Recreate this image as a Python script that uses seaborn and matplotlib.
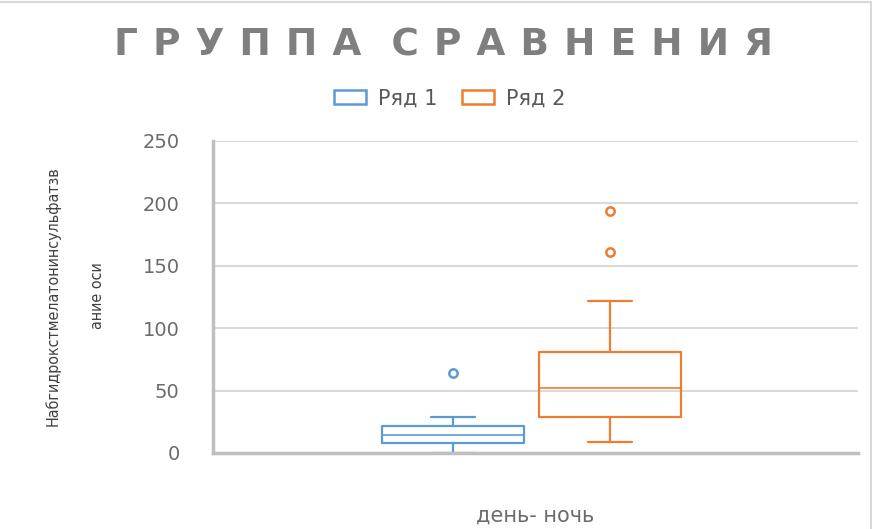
import matplotlib
matplotlib.use("Agg")
import matplotlib.pyplot as plt
from matplotlib.lines import Line2D
import seaborn as sns
import pandas as pd

# Series values (night/day comparison, two groups)
series_1 = [0, 5, 7.8, 11, 14.4, 18, 21.9, 28.8, 64]
series_2 = [8.8, 18, 24, 28.8, 38, 45, 51.8, 60, 70, 81, 122, 161, 194]
series_names = ["Ряд 1", "Ряд 2"]
category = "день- ночь"
title = "ГРУППА СРАВНЕНИЯ"
ylabel_lines = ["Набгидрокстмелатонинсульфатзв", "ание оси"]
yticks = [0, 50, 100, 150, 200, 250]

colors = ["#5B9BD5", "#ED7D31"]
grey_text = "#7F7F7F"
tick_grey = "#6B6B6B"

df = pd.DataFrame({
    "value": series_1 + series_2,
    "series": [series_names[0]] * len(series_1) + [series_names[1]] * len(series_2),
    "cat": [category] * (len(series_1) + len(series_2)),
})

sns.set_theme(style="white")
plt.rcParams["font.family"] = ["DejaVu Sans"]

fig = plt.figure(figsize=(8.74, 5.29), dpi=100)
ax = fig.add_axes([213 / 874, 1 - 453 / 529, 645 / 874, 312 / 529])

sns.boxplot(
    data=df, x="cat", y="value", hue="series", palette=colors,
    fill=False, width=0.487, gap=0.096, linewidth=1.6,
    flierprops=dict(marker="o", markersize=6, markeredgewidth=1.8),
    medianprops=dict(linewidth=1.2),
    capwidths=0.068,
    ax=ax, legend=False,
)

ax.set_ylim(0, 250)
ax.set_xlim(-0.494, 0.506)
ax.set_yticks(yticks)
ax.set_yticklabels([str(t) for t in yticks], color=tick_grey, fontsize=14)
ax.tick_params(axis="y", length=0, pad=24)
ax.set_xticks([])
ax.set_xlabel(category, color=tick_grey, fontsize=15, labelpad=38)
ax.set_ylabel("")
ax.yaxis.grid(True, color="#D9D9D9", linewidth=1.5)
ax.set_axisbelow(True)
for side in ["top", "right"]:
    ax.spines[side].set_visible(False)
for side in ["left", "bottom"]:
    ax.spines[side].set_color("#BFBFBF")
    ax.spines[side].set_linewidth(2.5)
    ax.spines[side].set_zorder(5)

# Two-line rotated axis title
for xf, line in zip([53 / 874, 97 / 874], ylabel_lines):
    fig.text(xf, 1 - 296 / 529, line, rotation=90, ha="center", va="center",
             fontsize=11.5, color="#404040", family="DejaVu Sans",
             fontstretch="condensed")

# Title with wide letter spacing
first, second = title.split(" ")
gap = "\u2009\u2009"
spaced = gap.join(first) + "\u2002\u2009\u200a" + gap.join(second)
fig.text(444 / 874, 1 - 56 / 529, spaced, ha="center", va="baseline",
         fontsize=27, fontweight="bold", color=grey_text)

# Legend with hollow squares
handles = [plt.Rectangle((0, 0), 1, 1, facecolor="none", edgecolor=c, linewidth=1.8)
           for c in colors]
fig.legend(handles, series_names, loc="center", bbox_to_anchor=(450 / 874, 1 - 98.5 / 529),
           ncol=2, frameon=False, fontsize=15, labelcolor="#595959",
           handlelength=1.5, handleheight=0.65, columnspacing=1.2,
           handletextpad=0.6)

# Chart border on top and right
fig.add_artist(Line2D([0, 0.997], [0.996, 0.996], transform=fig.transFigure,
                      color="#D9D9D9", linewidth=1.5))
fig.add_artist(Line2D([0.997, 0.997], [0, 0.996], transform=fig.transFigure,
                      color="#D9D9D9", linewidth=1.5))

fig.savefig("out.png", dpi=100)
